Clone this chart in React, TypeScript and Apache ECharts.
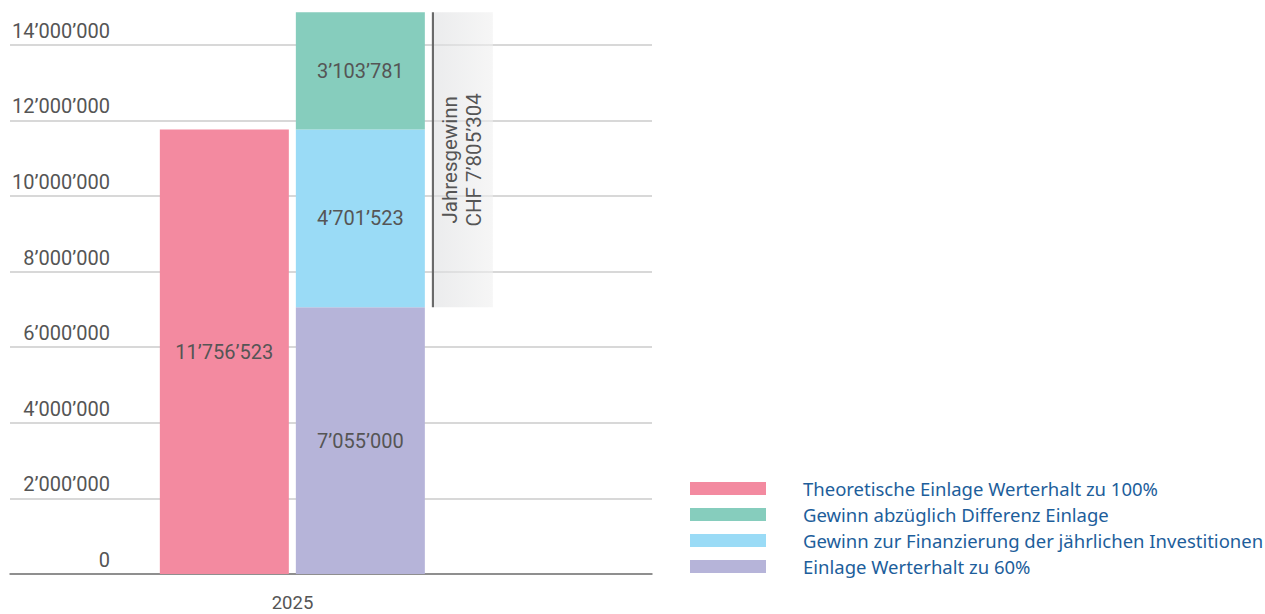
import React, { useEffect, useRef } from "react";
import * as echarts from "echarts";

const categories = ["2025"];
const theoretischeEinlage = [11756523];
const einlage60 = [7055000];
const gewinnFinanzierung = [4701523];
const gewinnDifferenz = [3103781];
const jahresgewinn = [7805304];
const yTicks = [0, 2000000, 4000000, 6000000, 8000000, 10000000, 12000000, 14000000];

const NAMES = {
  pink: "Theoretische Einlage Werterhalt zu 100%",
  green: "Gewinn abzüglich Differenz Einlage",
  blue: "Gewinn zur Finanzierung der jährlichen Investitionen",
  purple: "Einlage Werterhalt zu 60%",
};

const fmt = (n: number) => String(Math.round(n)).replace(/\B(?=(\d{3})+(?!\d))/g, "’");

const FONT = "Roboto";
const GAP = "5.43%";

export default function App() {
  const ref = useRef<HTMLDivElement>(null);
  useEffect(() => {
    document.body.style.margin = "0";
    const chart = echarts.init(ref.current!, null, { renderer: "svg" });
    const valueLabel = {
      show: true,
      position: "inside",
      color: "#555",
      fontFamily: FONT,
      fontSize: 20,
      formatter: (p: any) => fmt(p.value),
    };
    chart.setOption({
      animation: false,
      grid: { left: 10, right: 613, top: 7, bottom: 40, containLabel: false },
      legend: {
        orient: "vertical",
        left: 690,
        top: 479,
        padding: 0,
        itemWidth: 76,
        itemHeight: 13,
        itemGap: 7,
        icon: "rect",
        selectedMode: false,
        data: [NAMES.pink, NAMES.green, NAMES.blue, NAMES.purple],
        textStyle: {
          fontFamily: "Noto Sans",
          fontSize: 18.5,
          color: "#1d5e9b",
          padding: [0, 0, 0, 32],
        },
      },
      xAxis: {
        type: "category",
        data: categories,
        axisTick: { show: false },
        axisLine: { show: true, lineStyle: { color: "#777", width: 1.5 } },
        axisLabel: {
          color: "#555",
          fontFamily: FONT,
          fontSize: 18.5,
          lineHeight: 15,
          margin: 21,
          padding: [0, 77, 0, 0],
        },
      },
      yAxis: {
        type: "value",
        min: 0,
        max: 15000000,
        interval: 2000000,
        axisLine: { show: false },
        axisTick: { show: false },
        axisLabel: {
          inside: true,
          showMaxLabel: false,
          align: "right",
          verticalAlign: "bottom",
          margin: 100,
          padding: [0, 0, 4, 0],
          color: "#555",
          fontFamily: FONT,
          fontSize: 20,
          formatter: (v: number) => (yTicks.includes(v) ? fmt(v) : ""),
        },
        splitLine: {
          show: true,
          showMaxLine: false,
          lineStyle: { color: "#cbcbcb", width: 1.5 },
        },
      },
      series: [
        {
          name: NAMES.pink,
          type: "bar",
          data: theoretischeEinlage,
          barWidth: 129,
          barGap: GAP,
          itemStyle: { color: "#f38aa0" },
          label: valueLabel,
        },
        {
          name: NAMES.purple,
          type: "bar",
          stack: "s",
          data: einlage60,
          barWidth: 129,
          barGap: GAP,
          itemStyle: { color: "#b6b4d9" },
          label: valueLabel,
        },
        {
          name: NAMES.blue,
          type: "bar",
          stack: "s",
          data: gewinnFinanzierung,
          barWidth: 129,
          barGap: GAP,
          itemStyle: { color: "#9adbf6" },
          label: valueLabel,
        },
        {
          name: NAMES.green,
          type: "bar",
          stack: "s",
          data: gewinnDifferenz,
          barWidth: 129,
          barGap: GAP,
          itemStyle: { color: "#86cdbd" },
          label: valueLabel,
        },
        {
          name: "base",
          type: "bar",
          stack: "j",
          data: einlage60,
          barWidth: 61,
          barGap: GAP,
          silent: true,
          itemStyle: { color: "rgba(0,0,0,0)" },
        },
        {
          name: "Jahresgewinn",
          type: "bar",
          stack: "j",
          data: jahresgewinn,
          barWidth: 61,
          barGap: GAP,
          itemStyle: {
            color: new echarts.graphic.LinearGradient(0, 0, 1, 0, [
              { offset: 0, color: "#6a6a6a" },
              { offset: 0.033, color: "#6a6a6a" },
              { offset: 0.034, color: "rgba(222,223,225,0.6)" },
              { offset: 1, color: "rgba(240,240,240,0.6)" },
            ]),
          },
          label: {
            show: true,
            position: "inside",
            rotate: 90,
            color: "#555",
            fontFamily: FONT,
            fontSize: 20.5,
            lineHeight: 24,
            align: "center",
            verticalAlign: "middle",
            formatter: (p: any) => "Jahresgewinn\nCHF " + fmt(p.value),
          },
        },
        {
          name: "spacer",
          type: "bar",
          stack: "sp",
          data: [null],
          barWidth: 6,
          barGap: GAP,
          silent: true,
        },
      ],
    });
    return () => chart.dispose();
  }, []);
  return <div ref={ref} style={{ width: 1265, height: 614 }} />;
}
